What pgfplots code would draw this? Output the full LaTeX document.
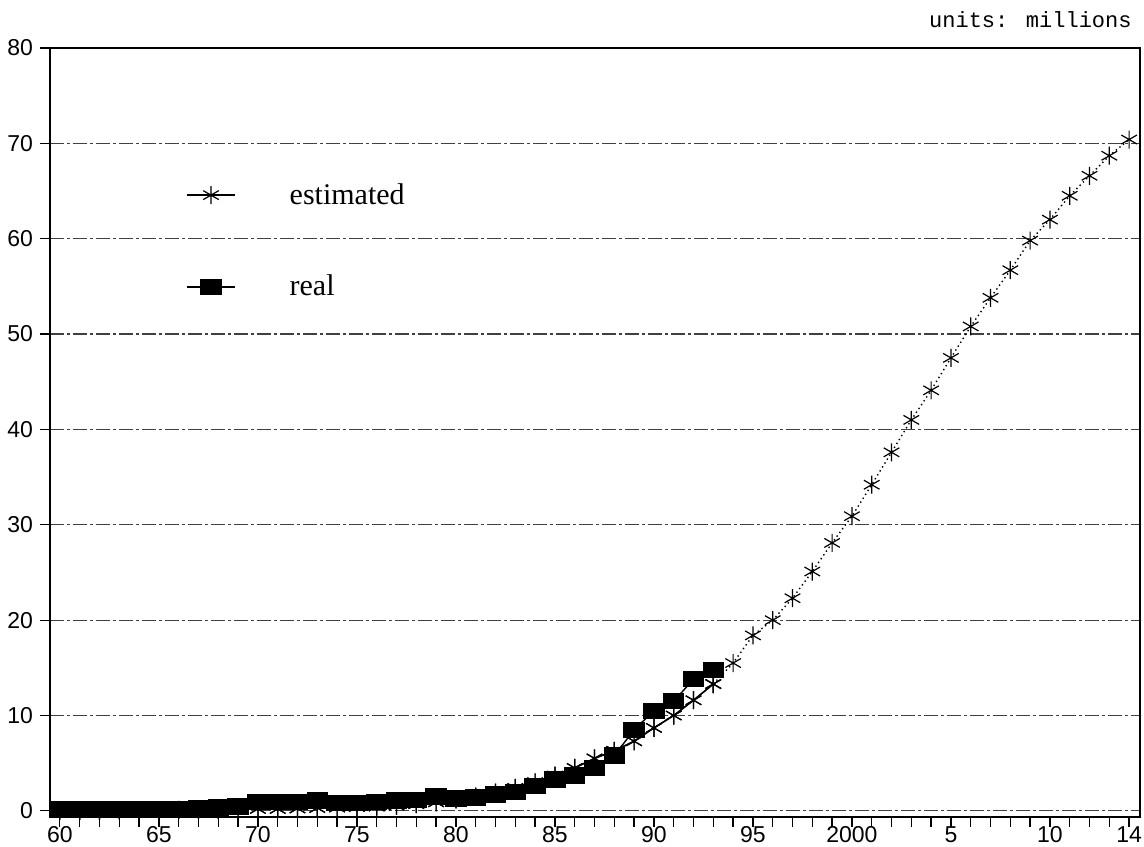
\documentclass[border=0pt]{standalone}
\usepackage{fontspec}
\setmainfont{Liberation Serif}
\newfontfamily\ticksf{Liberation Sans}
\newfontfamily\monof{Liberation Mono}
\usepackage{pgfplots}
\usepackage{pgfplotstable}
\pgfplotsset{compat=1.18}

\pgfplotstableread{
year est
1960 0.0
1961 0.0
1962 0.0
1963 0.05
1964 0.05
1965 0.05
1966 0.1
1967 0.1
1968 0.1
1969 0.15
1970 0.2
1971 0.2
1972 0.25
1973 0.3
1974 0.35
1975 0.4
1976 0.45
1977 0.55
1978 0.7
1979 0.9
1980 1.2
1981 1.5
1982 1.9
1983 2.4
1984 3.0
1985 3.7
1986 4.5
1987 5.5
1988 6.3
1989 7.3
1990 8.7
1991 10.0
1992 11.6
1993 13.3
1994 15.5
1995 18.4
1996 20.0
1997 22.3
1998 25.1
1999 28.1
2000 30.9
2001 34.2
2002 37.6
2003 41.0
2004 44.1
2005 47.5
2006 50.8
2007 53.8
2008 56.7
2009 59.8
2010 62.0
2011 64.5
2012 66.6
2013 68.7
2014 70.4
}\estdata

\pgfplotstableread{
year real
1960 0.15
1961 0.15
1962 0.15
1963 0.15
1964 0.15
1965 0.15
1966 0.2
1967 0.25
1968 0.35
1969 0.45
1970 0.9
1971 0.9
1972 0.95
1973 1.1
1974 0.8
1975 0.8
1976 0.9
1977 1.1
1978 1.15
1979 1.5
1980 1.3
1981 1.4
1982 1.7
1983 2.0
1984 2.6
1985 3.3
1986 3.7
1987 4.5
1988 5.8
1989 8.5
1990 10.5
1991 11.5
1992 13.8
1993 14.8
}\realdata

\begin{document}
\begin{tikzpicture}
\begin{axis}[
  scale only axis, width=545pt, height=384.3pt,
  xmin=1959.5, xmax=2014.55, ymin=-0.6, ymax=80,
  axis line style={line width=1pt},
  xtick={1960,1965,1970,1975,1980,1985,1990,1995,2000,2005,2010,2014},
  xticklabels={60,65,70,75,80,85,90,95,2000,5,10,14},
  minor xtick={1960,...,2014},
  ytick={0,10,...,80},
  tick align=outside, xtick pos=left, ytick pos=left,
  major tick length=5pt, minor tick length=5pt,
  tick style={black, line width=0.6pt},
  ymajorgrids,
  grid style={black!75, line width=0.6pt, dash pattern=on 7pt off 1.5pt on 1.5pt off 1.5pt},
  tick label style={font=\ticksf\fontsize{11.5}{12}\selectfont},
  /pgf/number format/assume math mode=true,
  xticklabel style={yshift=3.5pt},
  legend style={draw=none, fill=none, at={(axis cs:1966.06,66.7)}, anchor=north west,
    font=\fontsize{15}{18}\selectfont, row sep=30pt,
    /tikz/every odd column/.append style={column sep=25pt}},
  legend cell align=left,
  legend image code/.code={\draw[mark repeat=2,mark phase=2,#1] plot coordinates {(0pt,0pt) (12pt,0pt) (24pt,0pt)};},
]
\addplot[black, line width=0.7pt, mark=asterisk, mark size=4.5pt, mark options={line width=0.6pt, solid},
  restrict x to domain=1960:1993] table[x=year,y=est] {\estdata};
\addlegendentry{estimated}
\addplot[black, line width=0.7pt, mark=square*, mark size=5pt, mark options={yscale=0.75, solid}]
  table[x=year,y=real] {\realdata};
\addlegendentry{real}
\addplot[black, line width=0.7pt, mark=asterisk, mark size=4.5pt, mark options={line width=0.6pt, solid},
  restrict x to domain=1960:1993, forget plot] table[x=year,y=est] {\estdata};
\addplot[black, line width=0.7pt, dash pattern=on 0.7pt off 1.6pt, mark=asterisk, mark size=4.5pt,
  mark options={line width=0.6pt, solid},
  restrict x to domain=1993:2014, forget plot] table[x=year,y=est] {\estdata};
\end{axis}
\node[anchor=base east, font=\monof\fontsize{11}{12}\selectfont, inner sep=0pt]
  at ([xshift=-4pt,yshift=10pt]current axis.north east) {units: millions};
\pgfresetboundingbox
\path[use as bounding box] ([xshift=-25pt,yshift=-15.15pt]current axis.south west) rectangle ([xshift=2pt,yshift=24pt]current axis.north east);
\end{tikzpicture}
\end{document}
